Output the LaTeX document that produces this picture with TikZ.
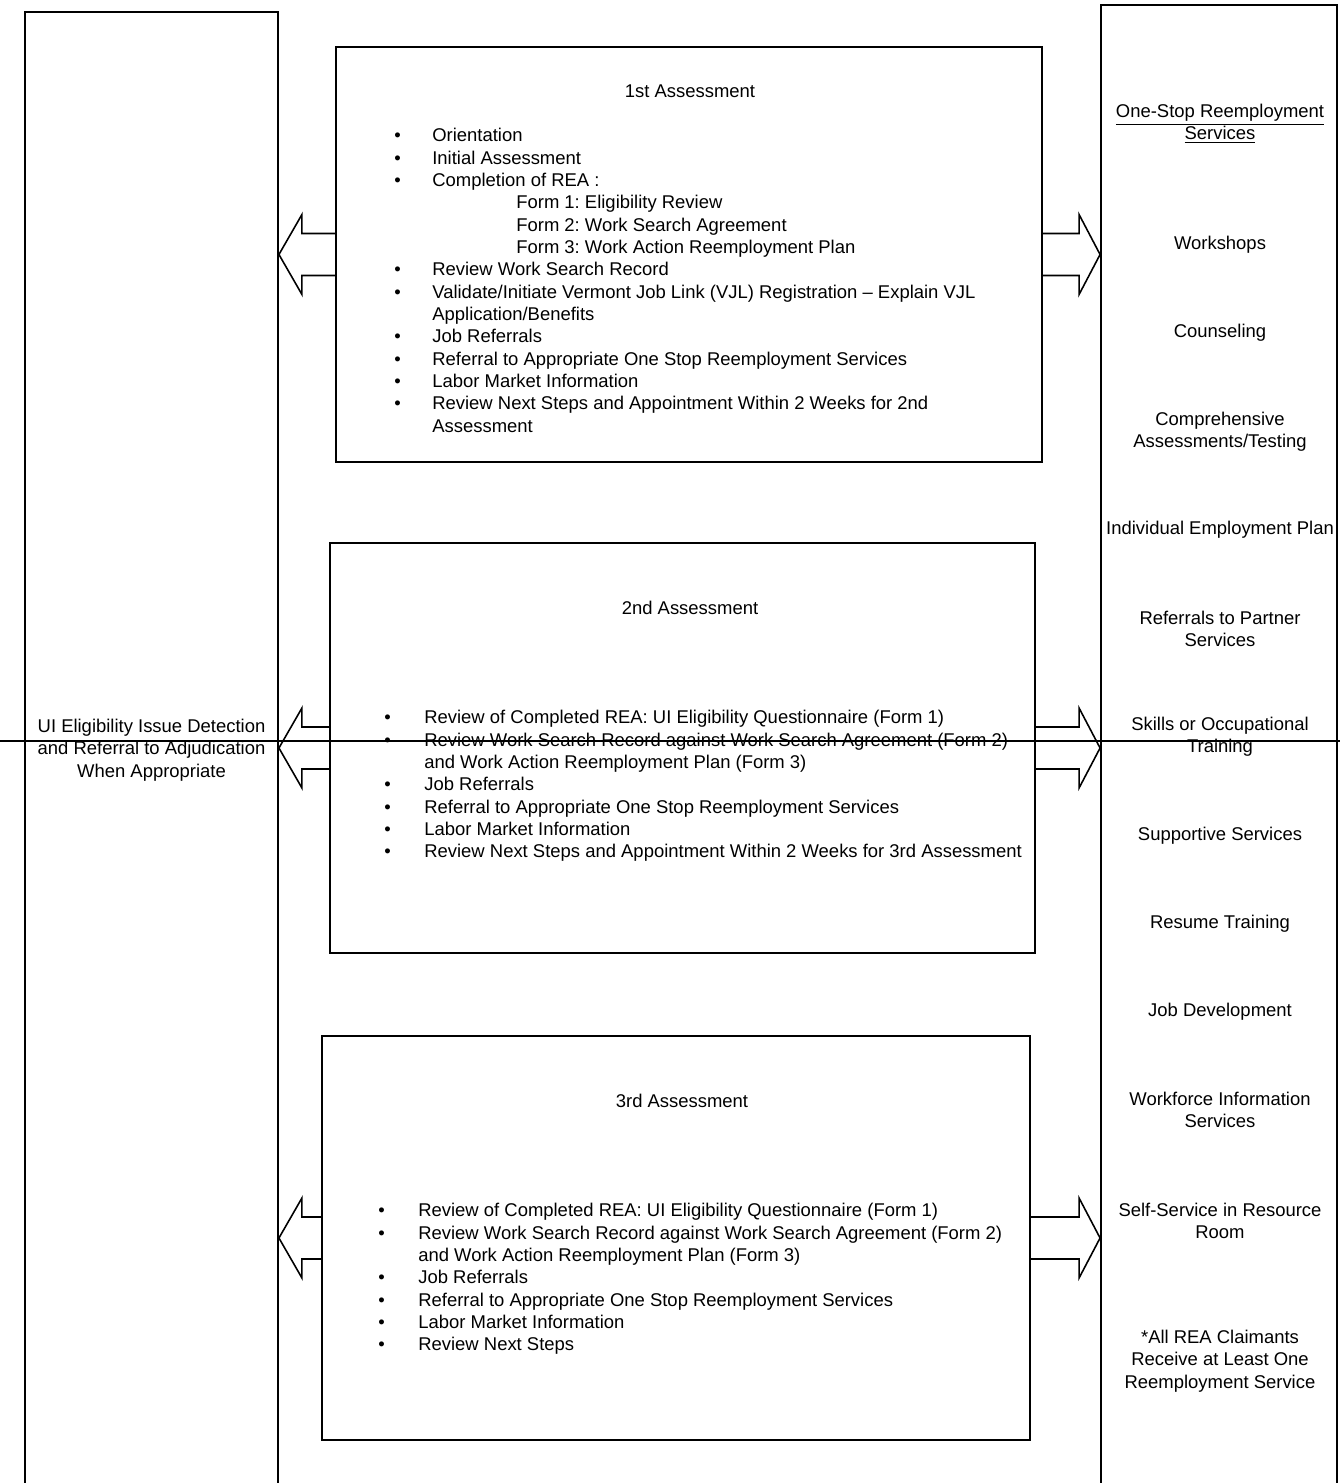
\documentclass[tikz,border=0pt]{standalone}
\usepackage{fontspec}
\setmainfont{Liberation Sans}
\usetikzlibrary{calc}
\frenchspacing

\tikzset{
  sidebox/.style={draw, line width=1.1pt, inner sep=0pt, align=center},
  assess/.style={draw, line width=1.1pt, inner sep=0pt},
  blockarr/.style={line width=0.9pt},
  svcitem/.style={align=center, inner sep=0pt},
  itemlist/.style={anchor=north west, inner sep=0pt, align=left}
}

% left-right block arrow: from box side #1 to the tip on side #2, head length #3
\newcommand{\blockarrow}[3]{%
  \draw[blockarr] ($(#1)+(0,-21)$) -- ($(#2 |- #1)+(#3,-21)$) -- ++(0,-19)
    -- (#2 |- #1) -- ($(#2 |- #1)+(#3,40)$) -- ++(0,-19) -- ($(#1)+(0,21)$);}

\newcommand{\itemrow}[1]{\textbullet & #1\\}

\begin{document}
\begin{tikzpicture}[x=0.02cm, y=-0.02cm, font=\fontsize{10.5}{12.7}\selectfont]
                      \useasboundingbox (0,0) rectangle (1340,1483);
                      \clip (0,0) rectangle (1340,1483);

                      \node[sidebox, minimum width=5.06cm, minimum height=29.52cm] (elig) at (151.5,750)
                        {UI Eligibility Issue Detection\\and Referral to Adjudication\\When Appropriate};
                      \node[sidebox, minimum width=4.72cm, minimum height=29.72cm] (svc) at (1219,748) {};

                      \node[assess, minimum width=14.12cm, minimum height=8.3cm] (as1) at (689,254.5) {};
                      \node[assess, minimum width=14.1cm, minimum height=8.2cm] (as2) at (682.5,748) {};
                      \node[assess, minimum width=14.16cm, minimum height=8.08cm] (as3) at (676,1238) {};

                      \node (t1) at (690,91) {1st Assessment};
                      \node (t2) at (690,608) {2nd Assessment};
                      \node (t3) at (682,1101) {3rd Assessment};

                      \node[itemlist] (l1) at (394,126) {\begin{tabular}{@{}p{0.76cm}@{}l@{}}
                        \itemrow{Orientation}
                        \itemrow{Initial Assessment}
                        \itemrow{Completion of REA :}
                        & \hspace{1.68cm}Form 1: Eligibility Review\\
                        & \hspace{1.68cm}Form 2: Work Search Agreement\\
                        & \hspace{1.68cm}Form 3: Work Action Reemployment Plan\\
                        \itemrow{Review Work Search Record}
                        \itemrow{Validate/Initiate Vermont Job Link (VJL) Registration -- Explain VJL}
                        & Application/Benefits\\
                        \itemrow{Job Referrals}
                        \itemrow{Referral to Appropriate One Stop Reemployment Services}
                        \itemrow{Labor Market Information}
                        \itemrow{Review Next Steps and Appointment Within 2 Weeks for 2nd}
                        & Assessment
                      \end{tabular}};

                      \node[itemlist] (l2) at (384,708) {\begin{tabular}{@{}p{0.8cm}@{}l@{}}
                        \itemrow{Review of Completed REA: UI Eligibility Questionnaire (Form 1)}
                        \itemrow{Review Work Search Record against Work Search Agreement (Form 2)}
                        & and Work Action Reemployment Plan (Form 3)\\
                        \itemrow{Job Referrals}
                        \itemrow{Referral to Appropriate One Stop Reemployment Services}
                        \itemrow{Labor Market Information}
                        \textbullet & Review Next Steps and Appointment Within 2 Weeks for 3rd Assessment
                      \end{tabular}};

                      \node[itemlist] (l3) at (378,1201) {\begin{tabular}{@{}p{0.8cm}@{}l@{}}
                        \itemrow{Review of Completed REA: UI Eligibility Questionnaire (Form 1)}
                        \itemrow{Review Work Search Record against Work Search Agreement (Form 2)}
                        & and Work Action Reemployment Plan (Form 3)\\
                        \itemrow{Job Referrals}
                        \itemrow{Referral to Appropriate One Stop Reemployment Services}
                        \itemrow{Labor Market Information}
                        \textbullet & Review Next Steps
                      \end{tabular}};

                      \node[svcitem] (s0) at (1220,124) {\underline{One-Stop Reemployment}\\\underline{Services}};
                      \node[svcitem] (s1) at (1220,245) {Workshops};
                      \node[svcitem] (s2) at (1220,333) {Counseling};
                      \node[svcitem] (s3) at (1220,432) {Comprehensive\\Assessments/Testing};
                      \node[svcitem] (s4) at (1220,530) {Individual Employment Plan};
                      \node[svcitem] (s5) at (1220,629) {Referrals to Partner\\Services};
                      \node[svcitem] (s6) at (1220,737) {Skills or Occupational\\Training};
                      \node[svcitem] (s7) at (1220,836) {Supportive Services};
                      \node[svcitem] (s8) at (1220,924) {Resume Training};
                      \node[svcitem] (s9) at (1220,1012) {Job Development};
                      \node[svcitem] (s10) at (1220,1110) {Workforce Information\\Services};
                      \node[svcitem] (s11) at (1220,1221) {Self-Service in Resource\\Room};
                      \node[svcitem] (s12) at (1220,1361) {*All REA Claimants\\Receive at Least One\\Reemployment Service};

                      \blockarrow{as1.west}{elig.east}{23}
                      \blockarrow{as2.west}{elig.east}{23}
                      \blockarrow{as3.west}{elig.east}{23}
                      \blockarrow{as1.east}{svc.west}{-21}
                      \blockarrow{as2.east}{svc.west}{-21}
                      \blockarrow{as3.east}{svc.west}{-21}

                      % line running across the whole sheet
                      \draw[line width=0.6pt] (0,741) -- (1340,741);
                  \end{tikzpicture}
\end{document}
